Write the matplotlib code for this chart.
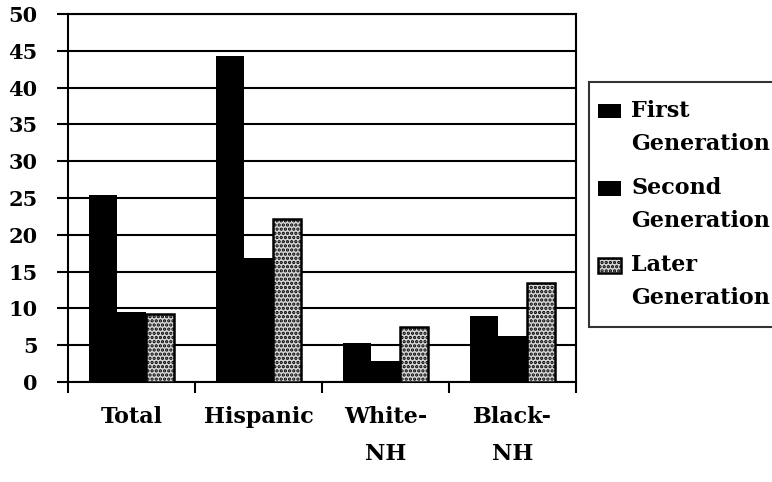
import matplotlib
matplotlib.use("Agg")
import matplotlib.pyplot as plt
import numpy as np
from matplotlib.legend_handler import HandlerPatch
from matplotlib.patches import Rectangle

categories = ["Total", "Hispanic", "White-\nNH", "Black-\nNH"]
series_names = ["First\nGeneration", "Second\nGeneration", "Later\nGeneration"]
first_gen = [25.4, 44.3, 5.3, 8.9]
second_gen = [9.5, 16.9, 2.9, 6.2]
later_gen = [9.2, 22.1, 7.5, 13.4]
yticks = [0, 5, 10, 15, 20, 25, 30, 35, 40, 45, 50]

plt.rcParams['hatch.linewidth'] = 1.6
FONT = dict(family="DejaVu Serif", weight="bold")

fig = plt.figure(figsize=(7.72, 4.82), dpi=100)
ax = fig.add_axes([68/772, 1-382/482, (576-68)/772, (382-14)/482])

x = np.arange(len(categories))
w = 1/4.5
b1 = ax.bar(x - w, first_gen, w, color="black", edgecolor="black", linewidth=0, zorder=3)
b2 = ax.bar(x, second_gen, w, color="black", edgecolor="black", linewidth=0, zorder=3)
b3 = ax.bar(x + w, later_gen, w, facecolor="#d6d6d6", edgecolor="black", hatch="....",
            linewidth=1.8, zorder=3)

ax.set_xlim(-0.5, len(categories) - 0.5)
ax.set_ylim(0, 50)
ax.set_yticks(yticks)
ax.set_yticklabels([str(t) for t in yticks], fontsize=15, **FONT)
ax.yaxis.grid(True, color="black", linewidth=1.5, zorder=0)
ax.set_axisbelow(True)

ax.set_xticks(x)
ax.set_xticklabels(categories, fontsize=16, linespacing=1.9, va="top", **FONT)
ax.set_xticks(np.arange(len(categories) + 1) - 0.5, minor=True)
ax.tick_params(axis="x", which="major", length=0, pad=17)
ax.tick_params(axis="x", which="minor", length=8, width=1.5, direction="out")
ax.tick_params(axis="y", length=8, width=1.5, direction="out", pad=14)
for s in ax.spines.values():
    s.set_linewidth(1.5)
    s.set_color("black")

LEG_FS = 16


def make_patch(legend, orig_handle, xdescent, ydescent, width, height, fontsize):
    off_y = fontsize * 0.76
    off_x = -fontsize * 0.38
    return Rectangle((-xdescent + off_x, -ydescent + off_y), width, height)

handler = HandlerPatch(patch_func=make_patch)
handles = [b1.patches[0], b2.patches[0], b3.patches[0]]
leg = fig.legend(handles, series_names,
                 loc="upper left", bbox_to_anchor=(589/772, 1-82/482),
                 prop=dict(family="DejaVu Serif", weight="bold", size=LEG_FS),
                 frameon=True, fancybox=False, edgecolor="black",
                 handlelength=1.0, handleheight=0.62, handletextpad=0.1,
                 labelspacing=1.0, borderpad=0.8, borderaxespad=0,
                 handler_map={h: handler for h in handles})
leg.get_frame().set_linewidth(1.5)
for t in leg.get_texts():
    t.set_linespacing(1.65)

fig.savefig("out.png", dpi=100)
